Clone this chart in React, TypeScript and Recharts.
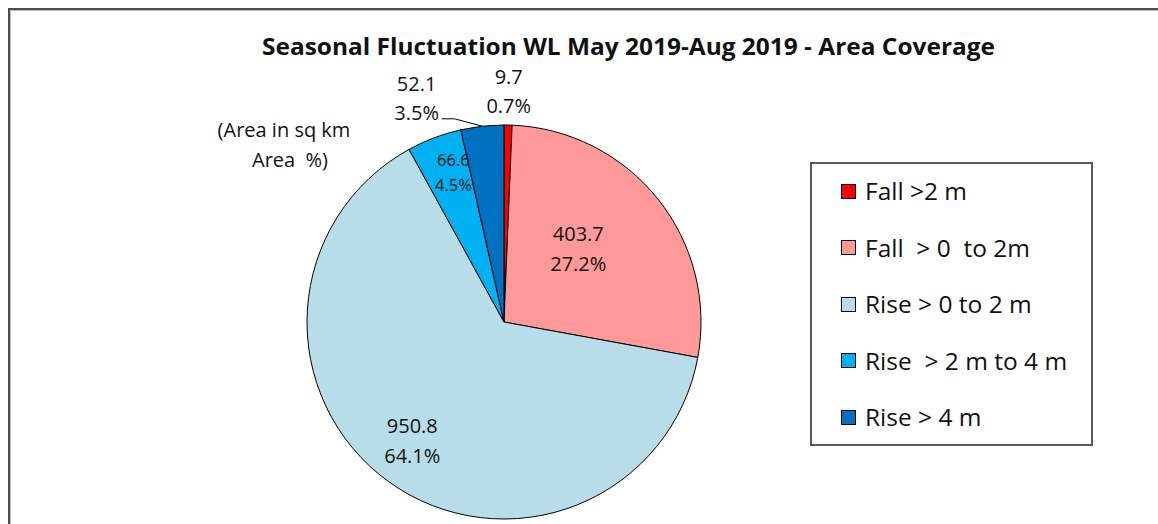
import React from 'react';
import { PieChart, Pie, Cell, Legend } from 'recharts';

const categories = ['Fall >2 m', 'Fall  > 0  to 2m', 'Rise > 0 to 2 m', 'Rise  > 2 m to 4 m', 'Rise > 4 m'];
const areaValues = [9.7, 403.7, 950.8, 66.6, 52.1];
const sliceColors = ['#FF0000', '#FF9999', '#B7DEE8', '#00B0F0', '#0070C0'];

const chartTitle = 'Seasonal Fluctuation WL May 2019-Aug 2019 - Area Coverage';
const noteLines = ['(Area in sq km', 'Area  %)'];

const data = categories.map((name, i) => ({ name, value: areaValues[i] }));

const FONT = "'Open Sans', 'Liberation Sans', sans-serif";

// label placement per slice: radius factor, angle offset (deg, clockwise), font size, line height, leader
const labelPlacement = [
  { rf: 1.17, da: 0, fs: 20, lh: 29, leader: false },
  { rf: 0.53, da: -6, fs: 20, lh: 30, leader: false },
  { rf: 0.76, da: 2, fs: 20, lh: 30, leader: false },
  { rf: 0.8, da: 2, fs: 16.5, lh: 25, leader: false },
  { rf: 1.22, da: -15, fs: 20, lh: 29, leader: true },
];

const renderLabel = (props: any) => {
  const { cx, cy, midAngle, outerRadius, index, value, percent } = props;
  const p = labelPlacement[index];
  const base = 90 - midAngle;
  const theta = ((base + p.da) * Math.PI) / 180;
  const r = outerRadius * p.rf;
  const x = cx + r * Math.sin(theta);
  const y = cy - r * Math.cos(theta);
  const pct = (percent * 100).toFixed(1) + '%';
  const y1 = y - p.lh / 2 + p.fs * 0.36;
  const y2 = y + p.lh / 2 + p.fs * 0.36;
  let leader = null;
  if (p.leader) {
    const mt = (base * Math.PI) / 180;
    const ex = cx + outerRadius * Math.sin(mt);
    const ey = cy - outerRadius * Math.cos(mt);
    const sx = x + 25;
    const sy = y2 - 1;
    leader = (
      <polyline
        points={`${sx},${sy} ${sx + 13},${sy} ${ex},${ey}`}
        fill="none"
        stroke="#000"
        strokeWidth={1}
      />
    );
  }
  return (
    <g>
      {leader}
      <text x={x} y={y1} textAnchor="middle" fontSize={p.fs} fontFamily={FONT} fill="#111">
        {value}
      </text>
      <text x={x} y={y2} textAnchor="middle" fontSize={p.fs} fontFamily={FONT} fill="#111">
        {pct}
      </text>
    </g>
  );
};

const renderLegend = () => {
  return (
    <div
      style={{
        width: 283,
        height: 284,
        boxSizing: 'border-box',
        border: '2px solid #595959',
        background: '#fff',
        fontFamily: FONT,
      }}
    >
      {categories.map((name, i) => (
        <div
          key={name}
          style={{
            height: 56.5,
            display: 'flex',
            alignItems: 'center',
            paddingLeft: 29,
            boxSizing: 'border-box',
            marginTop: i === 0 ? -1 : 0,
          }}
        >
          <span
            style={{
              display: 'inline-block',
              width: 15,
              height: 15,
              boxSizing: 'border-box',
              border: '1.5px solid #000',
              background: sliceColors[i],
              marginRight: 9,
            }}
          />
          <span style={{ fontSize: 24.5, color: '#111', whiteSpace: 'pre', lineHeight: 1 }}>{name}</span>
        </div>
      ))}
    </div>
  );
};

export default function App() {
  return (
    <div
      style={{
        position: 'fixed',
        left: 0,
        top: 0,
        width: 1158,
        height: 524,
        overflow: 'hidden',
        background: '#fff',
      }}
    >
      <div
        style={{
          position: 'absolute',
          left: 8,
          top: 8,
          width: 1300,
          height: 700,
          borderTop: '2px solid #4d4d4d',
          borderLeft: '2px solid #4d4d4d',
          boxShadow: 'inset 1px 1px 0 #bdbdbd',
        }}
      />
      <div style={{ position: 'absolute', left: 0, top: 0 }}>
        <PieChart width={1158} height={524} margin={{ top: 0, right: 0, bottom: 0, left: 0 }}>
          <Pie
            data={data}
            dataKey="value"
            nameKey="name"
            cx={504}
            cy={322}
            outerRadius={197}
            startAngle={90}
            endAngle={-270}
            stroke="#000"
            strokeWidth={1}
            label={renderLabel}
            labelLine={false}
            isAnimationActive={false}
          >
            {data.map((d, i) => (
              <Cell key={d.name} fill={sliceColors[i]} />
            ))}
          </Pie>
          <Legend
            layout="vertical"
            align="right"
            verticalAlign="top"
            content={renderLegend}
            wrapperStyle={{ left: 810, top: 162, right: 'auto', width: 283, height: 284 }}
          />
        </PieChart>
      </div>
      <svg
        width={1158}
        height={524}
        style={{ position: 'absolute', left: 0, top: 0, pointerEvents: 'none' }}
      >
        <text
          x={628.5}
          y={55}
          textAnchor="middle"
          fontFamily={FONT}
          fontWeight="bold"
          fontSize={22.5}
          textLength={733}
          lengthAdjust="spacingAndGlyphs"
          fill="#111"
        >
          {chartTitle}
        </text>
        <text x={284} y={137} textAnchor="middle" fontFamily={FONT} fontSize={20} fill="#111" style={{ whiteSpace: 'pre' }}>
          {noteLines[0]}
        </text>
        <text x={290} y={167} textAnchor="middle" fontFamily={FONT} fontSize={20} fill="#111" style={{ whiteSpace: 'pre' }}>
          {noteLines[1]}
        </text>
      </svg>
    </div>
  );
}
